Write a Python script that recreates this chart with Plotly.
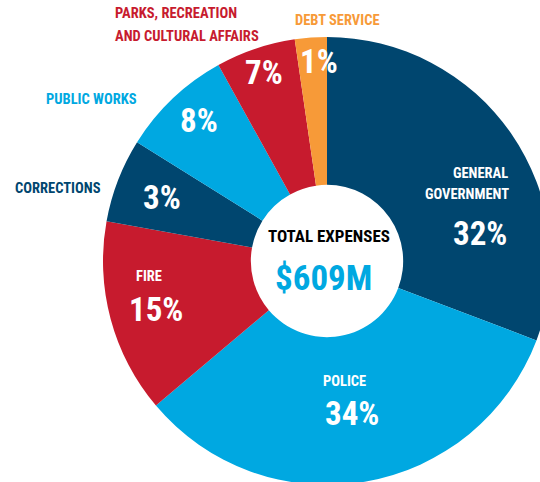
import plotly.graph_objects as go

# ---- data (slice sizes; printed labels as shown) ----
categories = ["General Government", "Police", "Fire", "Corrections",
              "Public Works", "Parks, Recreation and Cultural Affairs", "Debt Service"]
slice_values = [30.75, 33.05, 14.0, 6.05, 8.05, 5.75, 2.3]
pct_labels = ["32%", "34%", "15%", "3%", "8%", "7%", "1%"]
total_label = "$609M"

# ---- style ----
NAVY = "#00466F"
BLUE = "#00A8E1"
RED = "#C71B2E"
ORANGE = "#F79A38"
colors = [NAVY, BLUE, RED, NAVY, BLUE, RED, ORANGE]
FONT = "Roboto Condensed, Open Sans Condensed, sans-serif"

W, H = 552, 486          # slightly larger than the window: the donut bleeds off right/bottom
CX, CY, R = 327, 261, 224


def px(x, y):
    return x / W, 1 - y / H


fig = go.Figure()
fig.add_trace(go.Pie(
    labels=categories,
    values=slice_values,
    sort=False,
    direction="clockwise",
    rotation=0,
    hole=0.34,
    marker=dict(colors=colors, line=dict(width=0)),
    textinfo="none",
    hoverinfo="label+percent",
    showlegend=False,
    domain=dict(x=[(CX - R) / W, (CX + R) / W],
                y=[1 - (CY + R) / H, 1 - (CY - R) / H]),
))

annos = []


def add(text, x, y, size, color, xanchor="center"):
    ax, ay = px(x, y)
    annos.append(dict(text=text, x=ax, y=ay, xref="paper", yref="paper",
                      xanchor=xanchor, yanchor="middle", showarrow=False,
                      font=dict(family=FONT, size=size, color=color, weight="bold")))


NAME = 14.5
PCT = 33
# category names
add("GENERAL", 510, 173, NAME, "white", "right")
add("GOVERNMENT", 511, 194, NAME, "white", "right")
add("POLICE", 344, 381, NAME, "white")
add("FIRE", 149, 276, NAME, "white")
add("CORRECTIONS", 103, 189, NAME, NAVY, "right")
add("PUBLIC WORKS", 139, 99, NAME, BLUE, "right")
add("PARKS, RECREATION", 113, 13, NAME, RED, "left")
add("AND CULTURAL AFFAIRS", 113, 36, NAME, RED, "left")
add("DEBT SERVICE", 337, 20, NAME, ORANGE)

# percentages
pct_pos = [(480, 233), (352, 413), (156, 309), (162, 197), (199, 120), (264, 72), (319, 62)]
for lab, (x, y) in zip(pct_labels, pct_pos):
    add(lab, x, y, PCT, "white")

# centre
add("TOTAL EXPENSES", 329, 236, 17, "black")
add(total_label, 323, 278, 35, BLUE)

fig.update_layout(
    width=W, height=H,
    margin=dict(l=0, r=0, t=0, b=0),
    paper_bgcolor="white",
    plot_bgcolor="white",
    annotations=annos,
    showlegend=False,
)

fig.write_html(
    "out.html",
    config={"displayModeBar": False},
    post_script="document.body.style.margin='0';document.body.style.overflow='hidden';"
                "document.documentElement.style.overflow='hidden';",
)
